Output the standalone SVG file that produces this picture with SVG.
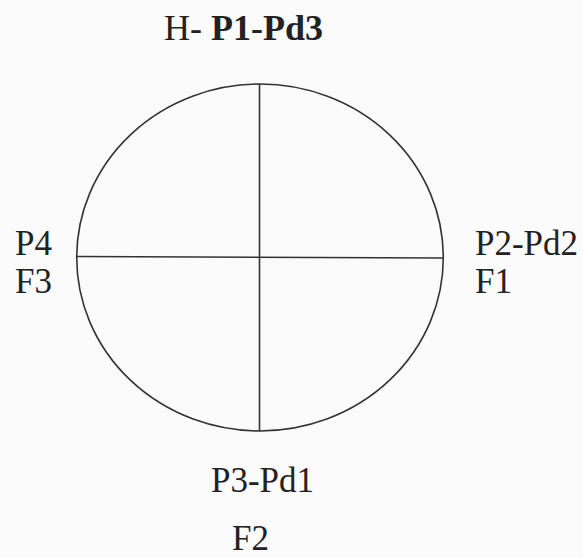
<svg xmlns="http://www.w3.org/2000/svg" width="583" height="558" viewBox="0 0 583 558">
<style>
.lbl{font-family:"Liberation Serif","Times New Roman",serif;font-size:35px;fill:#222}
.t{font-size:36px}
.b{font-weight:bold}
.ln{stroke:#333;stroke-width:1.6;fill:none}
</style>
<rect width="583" height="558" fill="#fbfbfb"/>
<g id="circle">
<ellipse class="ln" cx="260" cy="257.5" rx="183.3" ry="173.5"/>
</g>
<g id="connectors">
<line class="ln" x1="259.5" y1="84" x2="259.5" y2="431"/>
<line class="ln" x1="77" y1="256.5" x2="443.3" y2="258"/>
</g>
<g id="title"><text class="lbl t" x="164" y="40">H- <tspan class="b">P1-Pd3</tspan></text></g>
<g id="left"><text class="lbl" x="15" y="255">P4</text><text class="lbl" x="15" y="293">F3</text></g>
<g id="right"><text class="lbl" x="475" y="255">P2-Pd2</text><text class="lbl" x="475" y="293">F1</text></g>
<g id="bottom"><text class="lbl" x="211" y="492">P3-Pd1</text><text class="lbl" x="232" y="550">F2</text></g>
</svg>
